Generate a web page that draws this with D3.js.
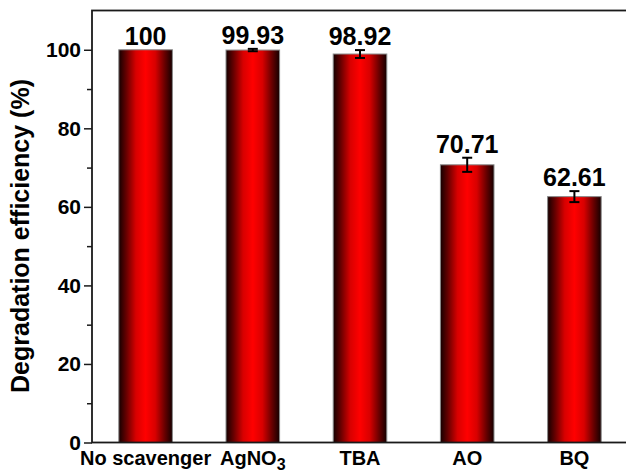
<!DOCTYPE html>
<html>
<head>
<meta charset="utf-8">
<script src="https://cdn.jsdelivr.net/npm/d3@7"></script>
<style>
  html, body { margin: 0; padding: 0; background: #fff; }
  svg { display: block; }
  text { font-family: "Liberation Sans", Arial, sans-serif; font-weight: bold; fill: #000; }
</style>
</head>
<body>
<svg id="chart" width="626" height="472"></svg>
<script>
// Scavenger experiment: degradation efficiency per trapping agent
const categories = ["No scavenger", "AgNO3", "TBA", "AO", "BQ"];
const efficiency = [100, 99.93, 98.92, 70.71, 62.61];
const errors = [0, 0.3, 1.0, 1.8, 1.4];
const majorTicks = [0, 20, 40, 60, 80, 100];
const minorTicks = [10, 30, 50, 70, 90];

const svg = d3.select("#chart");
const plotLeft = 92, plotRight = 628, plotTop = 10.5, plotBottom = 442.5;

const x = d3.scaleBand().domain(categories).range([plotLeft, plotRight])
  .paddingInner(0.5).paddingOuter(0.25);
const y = d3.scaleLinear().domain([0, 110]).range([plotBottom, plotTop]);

// Horizontal cylinder-like shading for the bars
const grad = svg.append("defs").append("linearGradient")
  .attr("id", "barShade").attr("x1", "0%").attr("x2", "100%").attr("y1", "0%").attr("y2", "0%");
[[0, "#140000"], [0.14, "#660000"], [0.32, "#d80000"], [0.5, "#ff0000"],
 [0.68, "#d80000"], [0.86, "#660000"], [1, "#140000"]].forEach(([o, c]) =>
  grad.append("stop").attr("offset", o).attr("stop-color", c));

const data = categories.map((c, i) => ({ c, v: efficiency[i], e: errors[i] }));

// Bars
svg.append("g").selectAll("rect").data(data).join("rect")
  .attr("x", d => x(d.c))
  .attr("y", d => y(d.v))
  .attr("width", x.bandwidth())
  .attr("height", d => y(0) - y(d.v))
  .attr("fill", "url(#barShade)")
  .attr("stroke", "#8a8a8a")
  .attr("stroke-width", 1);

// Error bars
const eg = svg.append("g").attr("stroke", "#000").attr("stroke-width", 2);
data.filter(d => d.e > 0).forEach(d => {
  const cx = x(d.c) + x.bandwidth() / 2;
  eg.append("line").attr("x1", cx).attr("x2", cx).attr("y1", y(d.v + d.e)).attr("y2", y(d.v - d.e));
  [d.v + d.e, d.v - d.e].forEach(v =>
    eg.append("line").attr("x1", cx - 5).attr("x2", cx + 5).attr("y1", y(v)).attr("y2", y(v)));
});

// Value labels
svg.append("g").selectAll("text").data(data).join("text")
  .attr("x", d => x(d.c) + x.bandwidth() / 2)
  .attr("y", d => y(d.v + d.e) - 5)
  .attr("text-anchor", "middle")
  .style("font-size", "25px")
  .text(d => String(d.v));

// Left axis: major and minor ticks
const yAxis = svg.append("g").attr("transform", `translate(${plotLeft},0)`)
  .call(d3.axisLeft(y).tickValues(majorTicks).tickSize(8).tickPadding(3));
yAxis.select(".domain").remove();
yAxis.selectAll(".tick line").attr("stroke", "#1a1a1a").attr("stroke-width", 1.5);
yAxis.selectAll(".tick text").style("font-size", "21px")
  .style("font-family", "'Liberation Sans', Arial, sans-serif").style("font-weight", "bold")
  .attr("fill", "#000");

const yMinor = svg.append("g").attr("transform", `translate(${plotLeft},0)`)
  .call(d3.axisLeft(y).tickValues(minorTicks).tickSize(5).tickFormat(""));
yMinor.select(".domain").remove();
yMinor.selectAll(".tick line").attr("stroke", "#1a1a1a").attr("stroke-width", 1.5);

// Plot frame
svg.append("rect")
  .attr("x", plotLeft).attr("y", plotTop)
  .attr("width", plotRight - plotLeft).attr("height", plotBottom - plotTop)
  .attr("fill", "none").attr("stroke", "#1a1a1a").attr("stroke-width", 1.8);

// Category labels (chemical formula gets a subscript)
const xl = svg.append("g").selectAll("text").data(categories).join("text")
  .attr("x", c => x(c) + x.bandwidth() / 2)
  .attr("y", 465)
  .attr("text-anchor", "middle")
  .style("font-size", "20px");
xl.each(function (c) {
  const t = d3.select(this);
  const m = c.match(/^([A-Za-z]+?)(\d+)$/);
  if (m) {
    t.append("tspan").text(m[1]);
    t.append("tspan").attr("dy", 5).style("font-size", "16px").text(m[2]);
  } else {
    t.text(c);
  }
});

// Y axis title
svg.append("text")
  .attr("transform", `translate(29,236) rotate(-90)`)
  .attr("text-anchor", "middle")
  .style("font-size", "25px")
  .text("Degradation efficiency (%)");
</script>
</body>
</html>
